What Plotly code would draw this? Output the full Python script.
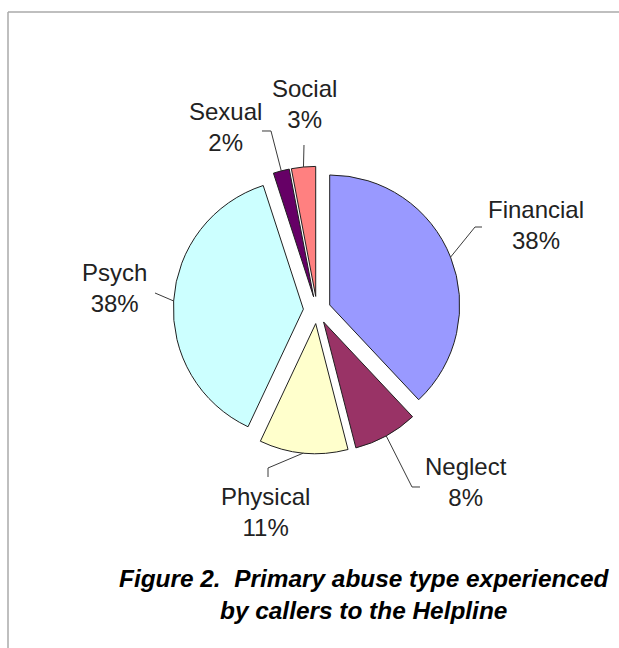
import math
import plotly.graph_objects as go

# Primary abuse type experienced by callers (percent of calls)
categories = ["Financial", "Neglect", "Physical", "Psych", "Sexual", "Social"]
shares = [38, 8, 11, 38, 2, 3]
colors = ["#9999FF", "#993366", "#FFFFCC", "#CCFFFF", "#660066", "#FF8080"]

W, H = 619, 648
PULL = 0.105             # every slice is exploded by the same amount
CX, CY = 317, 310        # pie centre, pixels from top-left
BOX = 287.3              # side of the square pie domain, pixels
R = BOX / (2 * (1 + PULL))   # slice radius as plotly computes it

# label centre and leader-line bend points (pixels) for each category
label_pos = {
    "Financial": (536, 225),
    "Neglect": (466, 482),
    "Physical": (265, 512),
    "Psych": (114, 288),
    "Sexual": (225, 127),
    "Social": (304, 104),
}
leader_bends = {
    "Financial": [(475, 227), (482, 227)],
    "Neglect": [(412, 487), (420, 487)],
    "Physical": [(268, 468), (268, 477)],
    "Psych": [(155, 293)],
    "Sexual": [(271, 131), (262, 131)],
    "Social": [(304, 145)],
}

FONT = "Arial, Liberation Sans, sans-serif"


def px(x):
    return x / W


def py(y):
    return 1 - y / H


fig = go.Figure(
    go.Pie(
        labels=categories,
        values=shares,
        sort=False,
        direction="clockwise",
        rotation=0,
        pull=PULL,
        marker=dict(colors=colors, line=dict(color="#202020", width=1)),
        textinfo="none",
        hoverinfo="label+percent",
        showlegend=False,
        domain=dict(
            x=[px(CX - BOX / 2), px(CX + BOX / 2)],
            y=[py(CY + BOX / 2), py(CY - BOX / 2)],
        ),
    )
)

total = sum(shares)
shapes = []
annotations = []
cum = 0
for name, v in zip(categories, shares):
    mid = 2 * math.pi * (cum + v / 2) / total
    cum += v
    # point on the outer arc of the pulled slice, at its mid angle
    sx = CX + (1 + PULL) * R * math.sin(mid)
    sy = CY - (1 + PULL) * R * math.cos(mid)
    pts = [(sx, sy)] + leader_bends[name]
    path = "M " + " L ".join(f"{px(x):.5f},{py(y):.5f}" for x, y in pts)
    shapes.append(dict(type="path", xref="paper", yref="paper", path=path,
                       line=dict(color="#3a3a3a", width=1)))
    lx, ly = label_pos[name]
    annotations.append(dict(
        x=px(lx), y=py(ly), xref="paper", yref="paper",
        text=f"{name}<br>{round(100 * v / total)}%",
        showarrow=False, xanchor="center", yanchor="middle", align="center",
        font=dict(family=FONT, size=24, color="#222222"),
    ))

# caption beneath the pie
annotations.append(dict(
    x=px(364), y=py(594), xref="paper", yref="paper",
    text="<b><i>Figure 2.\u00a0 Primary abuse type experienced<br>by callers to the Helpline</i></b>",
    showarrow=False, xanchor="center", yanchor="middle", align="center",
    font=dict(family=FONT, size=24.4, color="#000000"),
))

# thin frame along the top and left edges
shapes.append(dict(type="line", xref="paper", yref="paper",
                   x0=px(8), y0=py(12), x1=1, y1=py(12),
                   line=dict(color="#aaaaaa", width=1.5)))
shapes.append(dict(type="line", xref="paper", yref="paper",
                   x0=px(8), y0=py(12), x1=px(8), y1=0,
                   line=dict(color="#aaaaaa", width=1.5)))

fig.update_layout(
    width=W, height=H,
    margin=dict(l=0, r=0, t=0, b=0),
    paper_bgcolor="white", plot_bgcolor="white",
    shapes=shapes, annotations=annotations,
)

fig.write_html("out.html")
